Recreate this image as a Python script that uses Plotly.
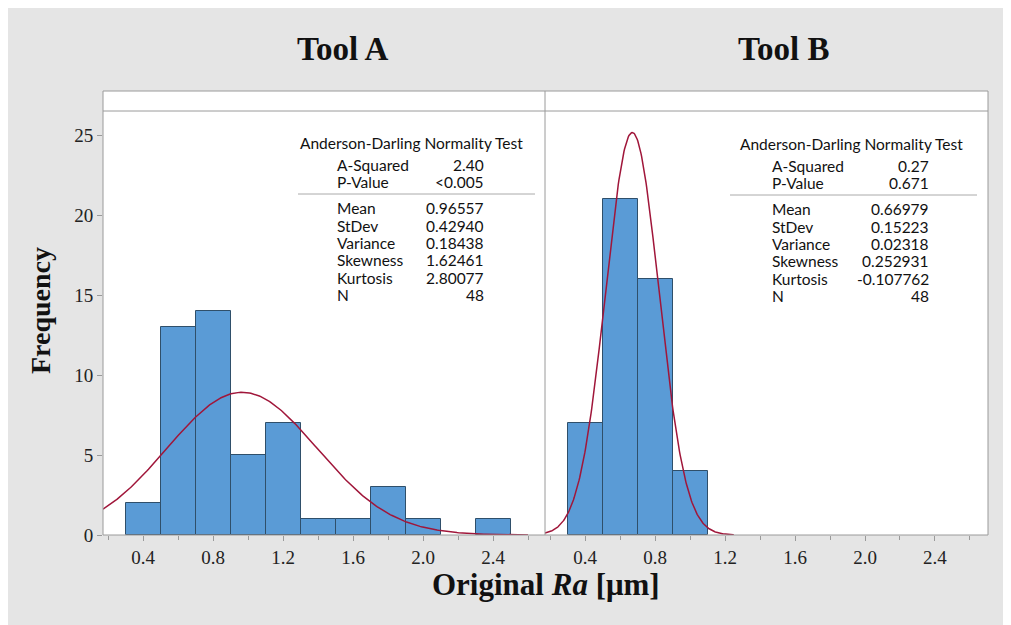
import numpy as np
import plotly.graph_objects as go

# ---------------- data ----------------
bin_centers = [0.4, 0.6, 0.8, 1.0, 1.2, 1.4, 1.6, 1.8, 2.0, 2.2, 2.4]
bin_width = 0.2
counts_A = [2, 13, 14, 5, 7, 1, 1, 3, 1, 0, 1]
counts_B = [7, 21, 16, 4, 0, 0, 0, 0, 0, 0, 0]

panel_titles = ["Tool A", "Tool B"]
stat_labels = ["A-Squared", "P-Value", "Mean", "StDev", "Variance", "Skewness", "Kurtosis", "N"]
stats_A = ["2.40", "<0.005", "0.96557", "0.42940", "0.18438", "1.62461", "2.80077", "48"]
stats_B = ["0.27", "0.671", "0.66979", "0.15223", "0.02318", "0.252931", "-0.107762", "48"]
mean_A, sd_A, n_A = 0.96557, 0.42940, 48
mean_B, sd_B, n_B = 0.66979, 0.15223, 48

x_ticks = [0.4, 0.8, 1.2, 1.6, 2.0, 2.4]
x_ticklabels = ["0.4", "0.8", "1.2", "1.6", "2.0", "2.4"]
y_ticks = [0, 5, 10, 15, 20, 25]

# ---------------- layout geometry ----------------
W, H = 1011, 625
OFF = 8  # page body margin
L, T = 103 - OFF, 91 - OFF
R = W - (988 - OFF)
B = H - (535 - OFF)
PW, PH = W - L - R, H - T - B
split_px = 545
x_range_A = [0.171, 2.697]
x_range_B = [0.171, 2.703]
y_top_data = 26.5
y_range = [0, y_top_data + 20 / 16.0]


def px(xp):
    return (xp - OFF - L) / PW


def py(yp):
    return (H - B - (yp - OFF)) / PH


BAR_COLOR = "#5a9bd6"
BAR_EDGE = "#2f4f6a"
CURVE = "#a0163a"
FRAME = "#9a9a9a"
SERIF = "Liberation Serif, DejaVu Serif, serif"
SANS = "Lato, Liberation Sans, sans-serif"
STAT_SIZE = 15.5

fig = go.Figure()


def normal_curve(mean, sd, n, x0, x1):
    xs = np.linspace(x0, x1, 300)
    ys = n * bin_width / (sd * np.sqrt(2 * np.pi)) * np.exp(-0.5 * ((xs - mean) / sd) ** 2)
    return xs, ys


def nonzero(vals):
    return [v if v > 0 else None for v in vals]


fig.add_trace(go.Bar(x=bin_centers, y=nonzero(counts_A), width=bin_width, xaxis="x", yaxis="y",
                     marker=dict(color=BAR_COLOR, line=dict(color=BAR_EDGE, width=1)),
                     showlegend=False))
fig.add_trace(go.Bar(x=bin_centers, y=nonzero(counts_B), width=bin_width, xaxis="x2", yaxis="y2",
                     marker=dict(color=BAR_COLOR, line=dict(color=BAR_EDGE, width=1)),
                     showlegend=False))
xa, ya = normal_curve(mean_A, sd_A, n_A, x_range_A[0], 2.6)
xb, yb = normal_curve(mean_B, sd_B, n_B, x_range_B[0], 1.25)
fig.add_trace(go.Scatter(x=xa, y=ya, mode="lines", line=dict(color=CURVE, width=1.5),
                         xaxis="x", yaxis="y", showlegend=False, cliponaxis=True))
fig.add_trace(go.Scatter(x=xb, y=yb, mode="lines", line=dict(color=CURVE, width=1.5),
                         xaxis="x2", yaxis="y2", showlegend=False, cliponaxis=True))

split = px(split_px)
xaxis_common = dict(tickvals=x_ticks, ticktext=x_ticklabels, ticks="outside", ticklen=5,
                    tickcolor=FRAME, showgrid=False, zeroline=False, showline=False,
                    tickfont=dict(family=SERIF, size=19, color="#222"),
                    minor=dict(tickvals=[0.2, 0.6, 1.0, 1.4, 1.8, 2.2, 2.6], ticks="outside",
                               ticklen=4, tickcolor=FRAME))
fig.update_layout(
    width=W, height=H,
    margin=dict(l=L, r=R, t=T, b=B),
    paper_bgcolor="#e5e5e5",
    plot_bgcolor="white",
    bargap=0,
    xaxis=dict(domain=[0, split], range=x_range_A, anchor="y", **xaxis_common),
    xaxis2=dict(domain=[split, 1], range=x_range_B, anchor="y2", **xaxis_common),
    yaxis=dict(domain=[0, 1], range=y_range, tickvals=y_ticks, ticks="outside", ticklen=5,
               tickcolor=FRAME, showgrid=False, zeroline=False, showline=False,
               tickfont=dict(family=SERIF, size=19, color="#222"), anchor="x"),
    yaxis2=dict(domain=[0, 1], range=y_range, showticklabels=False, showgrid=False,
                zeroline=False, showline=False, anchor="x2"),
)

shapes = []
# frame around plot area
shapes.append(dict(type="rect", xref="paper", yref="paper", x0=0, x1=1, y0=0, y1=1,
                   line=dict(color=FRAME, width=1), layer="above"))
# header strip line
shapes.append(dict(type="line", xref="paper", yref="y", x0=0, x1=1, y0=y_top_data, y1=y_top_data,
                   line=dict(color=FRAME, width=1), layer="above"))
# panel divider
shapes.append(dict(type="line", xref="paper", yref="paper", x0=split, x1=split, y0=0, y1=1,
                   line=dict(color=FRAME, width=1), layer="above"))

annotations = []
# panel titles
for title, cx in zip(panel_titles, [343, 783]):
    annotations.append(dict(text=f"<b>{title}</b>", xref="paper", yref="paper", x=px(cx), y=py(49),
                            showarrow=False, xanchor="center", yanchor="middle",
                            font=dict(family=SERIF, size=33, color="#111")))
# axis titles
annotations.append(dict(text="<b>Frequency</b>", xref="paper", yref="paper", x=px(40), y=py(311),
                        showarrow=False, textangle=-90, xanchor="center", yanchor="middle",
                        font=dict(family=SERIF, size=28, color="#111")))
annotations.append(dict(text="<b>Original <i>Ra</i> [μm]</b>", xref="paper", yref="paper",
                        x=px(546), y=py(584), showarrow=False, xanchor="center", yanchor="middle",
                        font=dict(family=SERIF, size=31, color="#111")))

# stats boxes
row_y = [165, 182, 208, 226, 243, 260, 278, 295]
for vals, head_x, lab_x, val_x, line_x0, line_x1, dy in [
    (stats_A, 298, 335, 486, 298, 535, 0),
    (stats_B, 738, 770, 931, 730, 977, 1),
]:
    annotations.append(dict(text="Anderson-Darling Normality Test", xref="paper", yref="paper",
                            x=px(head_x), y=py(143 + dy), showarrow=False, xanchor="left",
                            yanchor="middle", font=dict(family=SANS, size=STAT_SIZE, color="#111")))
    for lab, v, ry in zip(stat_labels, vals, row_y):
        annotations.append(dict(text=lab, xref="paper", yref="paper", x=px(lab_x), y=py(ry + dy),
                                showarrow=False, xanchor="left", yanchor="middle",
                                font=dict(family=SANS, size=STAT_SIZE, color="#111")))
        annotations.append(dict(text=v, xref="paper", yref="paper", x=px(val_x), y=py(ry + dy),
                                showarrow=False, xanchor="right", yanchor="middle",
                                font=dict(family=SANS, size=STAT_SIZE, color="#111")))
    shapes.append(dict(type="line", xref="paper", yref="paper", x0=px(line_x0), x1=px(line_x1),
                       y0=py(194 + dy), y1=py(194 + dy), line=dict(color="#aaaaaa", width=1)))

fig.update_layout(shapes=shapes, annotations=annotations)
fig.write_html("out.html")
